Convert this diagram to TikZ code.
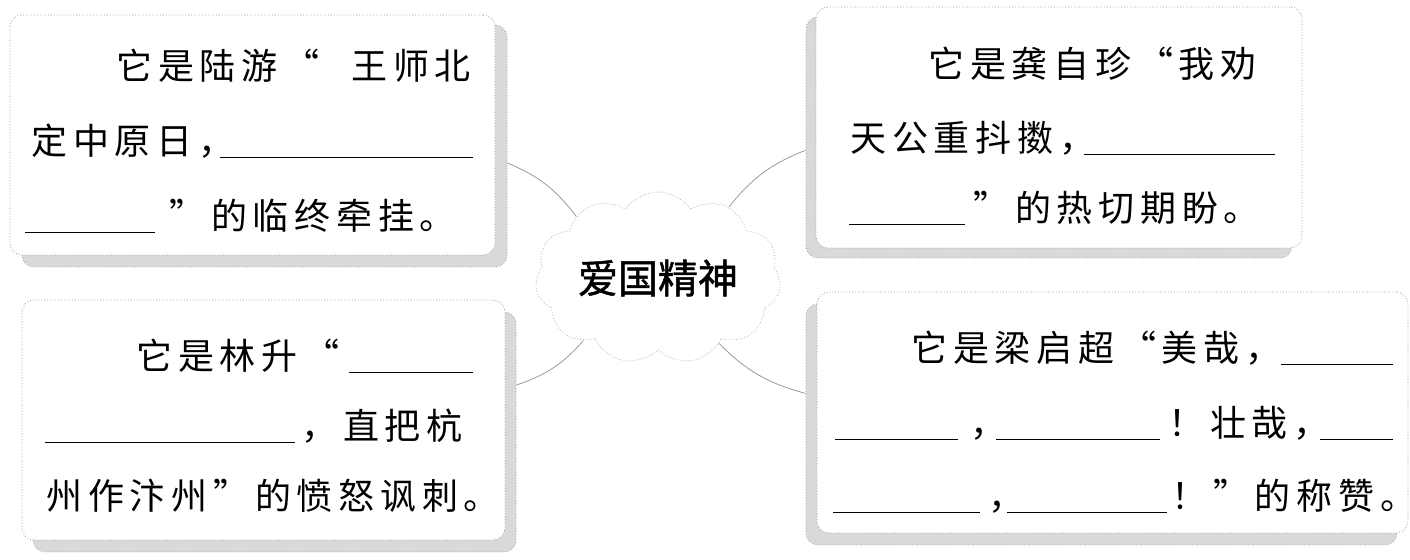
\documentclass[tikz,border=0pt]{standalone}
\usepackage{fontspec}
\usetikzlibrary{fit, shapes.symbols}
\newfontfamily\cardfont[LetterSpace=16]{Noto Sans CJK SC}
\newfontfamily\cloudfont[FakeBold=1.2]{Noto Sans CJK SC}
\newcommand{\blank}[1]{\rule[-1.5pt]{#1}{0.6pt}}

\begin{document}
\begin{tikzpicture}[
        x=0.5pt, y=-0.5pt,
        cardback/.style={draw=gray!80, densely dotted, fill=gray!30, rounded corners=6pt, inner sep=0pt},
        card/.style={draw=gray!80, densely dotted, fill=white, rounded corners=6pt, inner sep=0pt},
        link/.style={gray!80, line width=0.4pt},
        cardline/.style={anchor=base west, inner sep=0pt, font=\cardfont\fontsize{18}{20}\selectfont}
        ]
        \useasboundingbox (0,0) rectangle (1410,560);

        % cards, the back one first
        \node[cardback, fit={(22,25) (507,267)}] (luyoub) {};
        \node[card, fit={(10,15) (495,255)}] (luyou) {};
        \node[cardback, fit={(806,17) (1292,258)}] (gongb) {};
        \node[card, fit={(816,7) (1302,248)}] (gong) {};
        \node[cardback, fit={(33,312) (516,552)}] (linb) {};
        \node[card, fit={(22,300) (505,540)}] (lin) {};
        \node[cardback, fit={(806,304) (1397,545)}] (liangb) {};
        \node[card, fit={(817,292) (1408,533)}] (liang) {};

        % centre
        \node[cloud, cloud puffs=11, cloud puff arc=110, cloud ignores aspect,
              minimum width=120pt, minimum height=86pt, draw=gray!60, densely dotted, fill=white,
              font=\cloudfont\fontsize{20}{22}\selectfont] (idea) at (658,278) {爱国精神};

        \draw[link] (luyoub.-4.5) to[bend left=15] (idea.143);
        \draw[link] (gongb.183) to[bend right=15] (idea.45);
        \draw[link] (linb.11.5) to[bend right=15] (idea.220);
        \draw[link] (liangb.174) to[bend left=15] (idea.-47);

        % Lu You
        \node[cardline] (luyou1) at (116,80) {它是陆游“\hspace{16pt}王师北};
        \node[cardline] (luyou2) at (31,155) {定中原日，\kern-7pt\blank{126.5pt}};
        \node[cardline] (luyou3) at (25,230) {\blank{65pt}\kern7pt”的临终牵挂。};

        % Gong Zizhen
        \node[cardline] (gong1) at (928,78) {它是龚自珍“我劝};
        \node[cardline] (gong2) at (850,152) {天公重抖擞，\kern-5.5pt\blank{95.5pt}};
        \node[cardline] (gong3) at (849,222) {\blank{58pt}\kern4pt”的热切期盼。};

        % Lin Sheng
        \node[cardline] (lin1) at (136,370) {它是林升“\kern5pt\blank{62pt}};
        \node[cardline] (lin2) at (45,440) {\blank{125pt}\kern3pt，直把杭};
        \node[cardline] (lin3) at (46,510) {州作汴州”的愤怒讽刺。};

        % Liang Qichao
        \node[cardline] (liang1) at (911,362) {它是梁启超“美哉，\blank{56pt}};
        \node[cardline] (liang2) at (835,437) {\blank{61.5pt}\kern6pt，\kern-5pt\blank{82pt}\kern4pt！壮哉，\kern-5pt\blank{36.5pt}};
        \node[cardline] (liang3) at (833,510) {\blank{73.5pt}\kern4pt，\kern-8.5pt\blank{80pt}\kern2pt！”的称赞。};
    \end{tikzpicture}
\end{document}
